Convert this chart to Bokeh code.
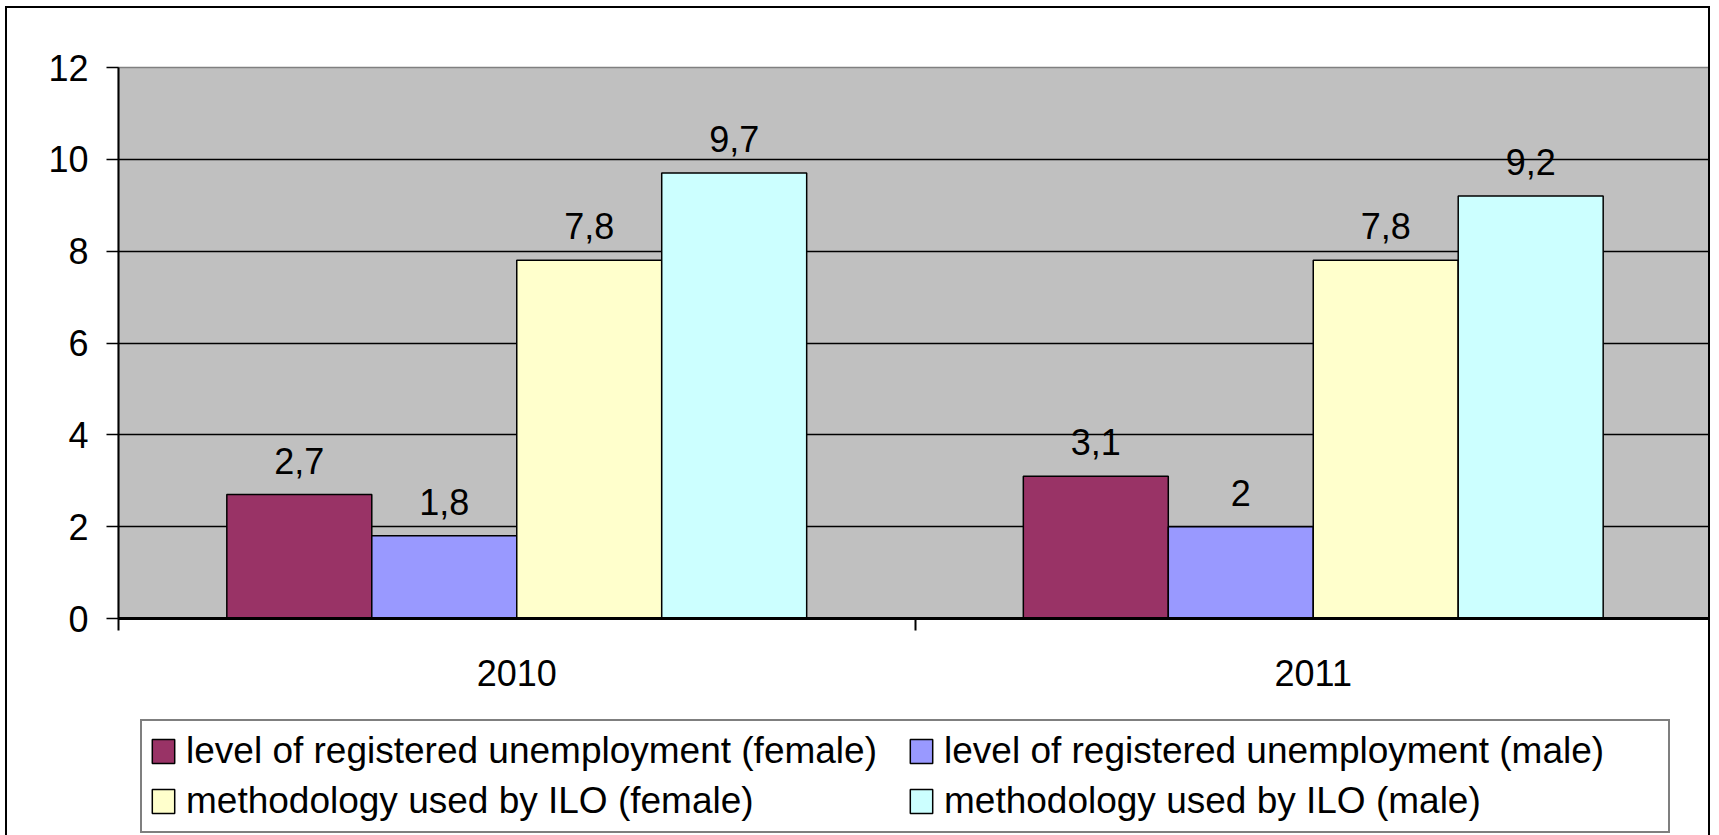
from bokeh.plotting import figure
from bokeh.layouts import column
from bokeh.models import Range1d, FixedTicker, LabelSet, ColumnDataSource, Legend, LegendItem
from bokeh.core.properties import value
from bokeh.embed import file_html
from bokeh.resources import INLINE

years = ["2010", "2011"]
series = [
    "level of registered unemployment (female)",
    "level of registered unemployment (male)",
    "methodology used by ILO (female)",
    "methodology used by ILO (male)",
]
reg_female = [2.7, 3.1]
reg_male = [1.8, 2.0]
ilo_female = [7.8, 7.8]
ilo_male = [9.7, 9.2]
colors = ["#993366", "#9999FF", "#FFFFCC", "#CCFFFF"]
y_ticks = [0, 2, 4, 6, 8, 10, 12]
grid_ticks = [2, 4, 6, 8, 10]

FONT = "Liberation Sans"
BORDER = "2px solid black"

def fmt(v):
    return f"{v:g}".replace(".", ",")

bar_w = 0.182
offsets = [-1.5, -0.5, 0.5, 1.5]
sources = []
for k, vals in enumerate([reg_female, reg_male, ilo_female, ilo_male]):
    xs = [i + 0.5 + offsets[k] * bar_w for i in range(len(years))]
    sources.append(ColumnDataSource(dict(x=xs, top=vals, label=[fmt(v) for v in vals])))

# ---------------- main chart ----------------
p = figure(width=1705, height=708, output_backend="svg", toolbar_location=None,
           x_range=Range1d(0, len(years)), y_range=Range1d(0, 12),
           min_border_left=111, min_border_right=1, min_border_top=59, min_border_bottom=98)
p.styles = {"border-top": BORDER, "border-left": BORDER, "border-right": BORDER,
            "margin-left": "5px", "margin-top": "6px"}
p.background_fill_color = "#C0C0C0"
p.border_fill_color = "white"
p.outline_line_color = "#808080"
p.outline_line_width = 1.5

for src, col in zip(sources, colors):
    p.vbar(x="x", top="top", bottom=0, width=bar_w, source=src,
           fill_color=col, line_color="black", line_width=1.5)
    p.add_layout(LabelSet(x="x", y="top", text="label", source=src,
                          text_align="center", text_baseline="alphabetic", y_offset=21,
                          text_font_size="36px", text_font=value(FONT), text_color="black"))

# grid
p.xgrid.visible = False
p.ygrid.ticker = FixedTicker(ticks=grid_ticks)
p.ygrid.grid_line_color = "black"
p.ygrid.grid_line_width = 1.5

# y axis
ya = p.yaxis[0]
ya.ticker = FixedTicker(ticks=y_ticks)
ya.major_tick_out = 12
ya.major_tick_in = 0
ya.minor_tick_out = 0
ya.minor_tick_in = 0
ya.axis_line_width = 2
ya.axis_line_color = "black"
ya.major_tick_line_width = 1.5
ya.major_tick_line_color = "black"
ya.major_label_standoff = 18
ya.major_label_text_font_size = "36px"
ya.major_label_text_font = FONT
ya.major_label_text_color = "black"

# x axis
xa = p.xaxis[0]
xa.ticker = FixedTicker(ticks=[i + 0.5 for i in range(len(years))],
                        minor_ticks=list(range(len(years) + 1)))
xa.major_label_overrides = {i + 0.5: y for i, y in enumerate(years)}
xa.major_tick_out = 0
xa.major_tick_in = 0
xa.minor_tick_out = 12
xa.minor_tick_in = 0
xa.minor_tick_line_width = 2
xa.minor_tick_line_color = "black"
xa.axis_line_width = 3
xa.axis_line_color = "black"
xa.major_label_standoff = 29
xa.major_label_text_font_size = "36px"
xa.major_label_text_font = FONT
xa.major_label_text_color = "black"

# ---------------- legend strip (same series, plotted out of view) ----------------
pl = figure(width=1705, height=127, output_backend="svg", toolbar_location=None,
            x_range=Range1d(0, len(years)), y_range=Range1d(100, 101),
            min_border_left=111, min_border_right=1, min_border_top=0, min_border_bottom=0)
pl.styles = {"border-left": BORDER, "border-right": BORDER, "margin-left": "5px"}
pl.axis.visible = False
pl.grid.visible = False
pl.outline_line_color = None
pl.background_fill_color = "white"
pl.border_fill_color = "white"

legend_renderers = []
for src, col in zip(sources, colors):
    r = pl.vbar(x="x", top="top", bottom=0, width=0, source=src,
                fill_color=col, line_color="black", line_width=1.5)
    legend_renderers.append(r)

legend = Legend(
    items=[LegendItem(label=s, renderers=[r]) for s, r in zip(series, legend_renderers)],
    orientation="horizontal", ncols=2, location=(22, 8),
    border_line_color="black", border_line_width=2,
    background_fill_color="white", background_fill_alpha=1.0,
    padding=7, spacing=4, margin=0,
    glyph_width=28, glyph_height=30, label_standoff=9,
    label_width=717, label_height=46,
    label_text_font_size="37px", label_text_font=FONT, label_text_color="black",
)
pl.add_layout(legend, "center")

layout = column(p, pl, spacing=0)
open("out.html", "w").write(file_html(layout, INLINE))
